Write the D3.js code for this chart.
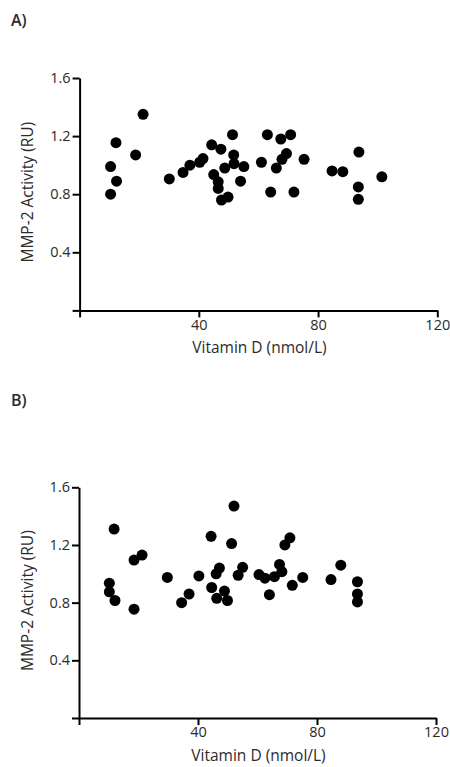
<!DOCTYPE html>
<html lang="en">

<head>
    <meta charset="UTF-8">
    <title>MMP-2 activity vs vitamin D</title>
    <script src="https://d3js.org/d3.v7.min.js"></script>
    <style>
        body {
            margin: 0;
            background: #fff;
        }

        text {
            font-family: "Open Sans", sans-serif;
            fill: #2b2b2b;
        }

        .axis path,
        .axis line {
            stroke: #000;
            stroke-width: 2px;
        }

        .axis text {
            font-size: 14.5px;
        }

        .dot {
            fill: #000;
        }
    </style>
</head>

<body>
    <svg width="450" height="767" id="svg1"></svg>
</body>
<script>
    // panel A values (vitamin D nmol/L, MMP-2 activity RU)
    var vitDA = [10.4, 10.4, 12.2, 12.4, 18.8, 21.3, 30.1, 34.7, 37.0, 40.3,
        41.4, 44.3, 47.4, 45.0, 46.5, 46.5, 47.6, 49.8, 48.7, 51.3,
        51.7, 51.8, 55.1, 54.0, 61.0, 63.0, 64.1, 67.5, 70.8, 69.4,
        67.9, 66.0, 75.3, 71.9, 84.7, 88.3, 93.7, 93.5, 93.5, 101.4];
    var mmpA = [0.99, 0.80, 1.155, 0.89, 1.07, 1.35, 0.905, 0.95, 1.00, 1.02,
        1.045, 1.14, 1.11, 0.935, 0.885, 0.84, 0.76, 0.78, 0.98, 1.21,
        1.07, 1.01, 0.99, 0.89, 1.02, 1.21, 0.815, 1.18, 1.21, 1.08,
        1.04, 0.98, 1.04, 0.815, 0.96, 0.955, 1.09, 0.85, 0.765, 0.92];

    // panel B values
    var vitDB = [11.8, 10.2, 10.2, 12.1, 18.5, 18.5, 21.2, 29.7, 34.5, 37.0,
        40.3, 44.4, 44.6, 46.1, 47.2, 46.3, 48.9, 49.9, 52.1, 51.3,
        53.5, 55.0, 60.5, 62.5, 64.0, 65.7, 67.4, 68.2, 69.2, 70.9,
        71.7, 75.2, 84.7, 88.0, 93.6, 93.6, 93.6];
    var mmpB = [1.31, 0.935, 0.875, 0.815, 0.755, 1.095, 1.13, 0.975, 0.80, 0.86,
        0.985, 1.26, 0.905, 1.00, 1.04, 0.83, 0.88, 0.815, 1.47, 1.21,
        0.99, 1.045, 0.995, 0.97, 0.855, 0.98, 1.065, 1.015, 1.20, 1.25,
        0.92, 0.975, 0.96, 1.06, 0.945, 0.86, 0.805];

    var xTicks = [0, 40, 80, 120];
    var yTicks = [0, 0.4, 0.8, 1.2, 1.6];

    var svg1 = d3.select("#svg1");

    function drawPanel(label, labelY, xs, ys, left, right, top, bottom) {
        var xScale = d3.scaleLinear().domain([0, 120]).range([left, right]),
            yScale = d3.scaleLinear().domain([0, 1.6]).range([bottom, top]);

        svg1.append("text")
            .attr("x", 11)
            .attr("y", labelY)
            .attr("font-size", "16px")
            .attr("font-weight", 600)
            .text(label);

        svg1.append("g")
            .attr("class", "axis")
            .attr("transform", "translate(0," + yScale(0) + ")")
            .call(d3.axisBottom(xScale)
                .tickValues(xTicks)
                .tickSize(7)
                .tickSizeOuter(0)
                .tickPadding(2)
                .tickFormat(function (d) {
                    return d === 0 ? "" : d;
                }));

        svg1.append("g")
            .attr("class", "axis")
            .attr("transform", "translate(" + xScale(0) + ",0)")
            .call(d3.axisLeft(yScale)
                .tickValues(yTicks)
                .tickSize(7)
                .tickSizeOuter(0)
                .tickPadding(2)
                .tickFormat(function (d) {
                    return d === 0 ? "" : d3.format(".1f")(d);
                }));

        svg1.append("text")
            .attr("x", (left + right) / 2 + 1)
            .attr("y", yScale(0) + 43)
            .attr("text-anchor", "middle")
            .attr("font-size", "15.5px")
            .text("Vitamin D (nmol/L)");

        svg1.append("text")
            .attr("transform", "rotate(-90)")
            .attr("x", -((top + bottom) / 2 - 2))
            .attr("y", 33)
            .attr("text-anchor", "middle")
            .attr("font-size", "15.5px")
            .text("MMP-2 Activity (RU)");

        svg1.append("g")
            .selectAll(".dot")
            .data(xs)
            .enter().append("circle")
            .attr("class", "dot")
            .attr("cx", function (d) {
                return xScale(d);
            })
            .attr("cy", function (d, i) {
                return yScale(ys[i]);
            })
            .attr("r", 5.5);
    }

    drawPanel("A)", 26, vitDA, mmpA, 79.6, 437.3, 78, 310.4);
    drawPanel("B)", 406, vitDB, mmpB, 79, 436, 487.3, 718);
</script>

</html>
